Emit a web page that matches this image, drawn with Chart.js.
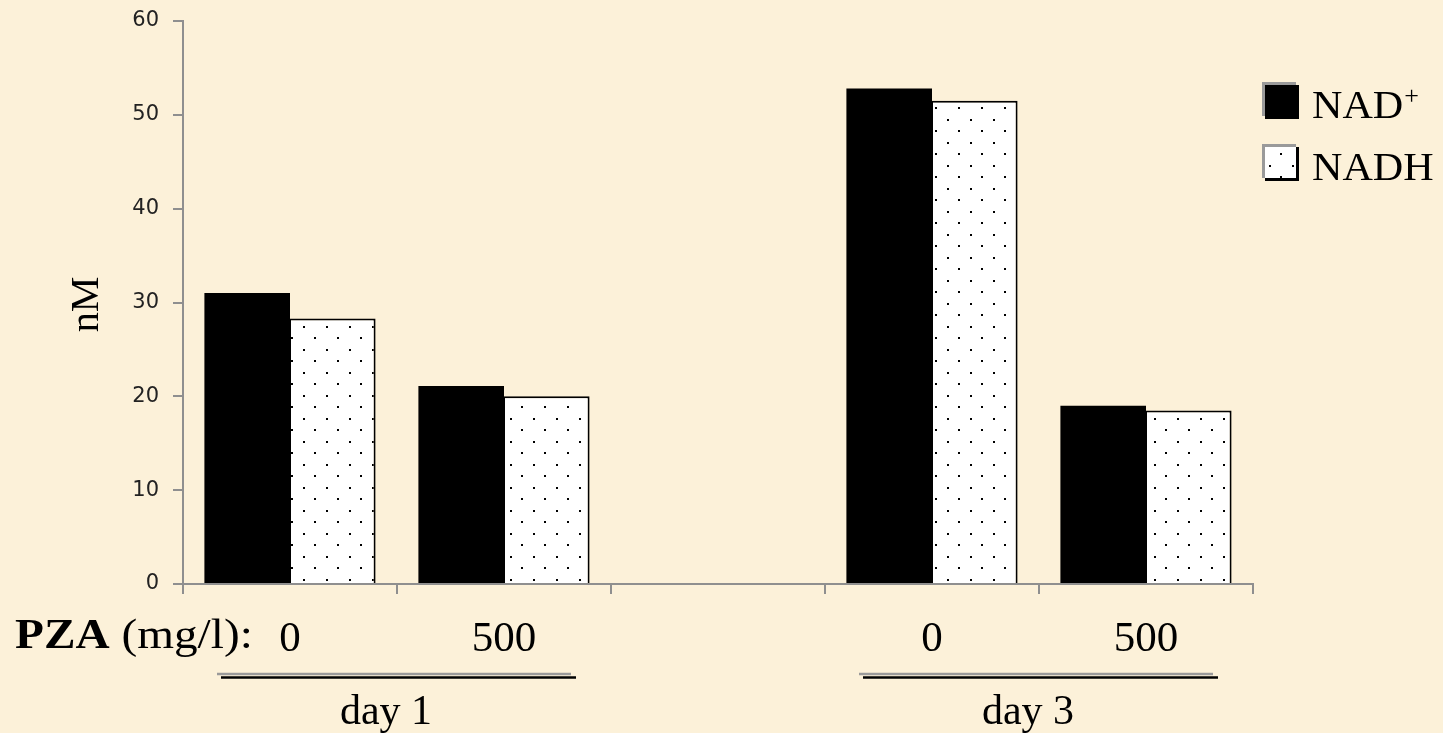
<!DOCTYPE html>
<html>
<head>
<meta charset="utf-8">
<title>NAD+ / NADH</title>
<script src="https://cdn.jsdelivr.net/npm/chart.js@4/dist/chart.umd.min.js"></script>
<style>
  html, body { margin: 0; padding: 0; background: #fcf1d9; }
  #wrap { position: relative; width: 1443px; height: 733px; }
  canvas { display: block; }
</style>
</head>
<body>
<div id="wrap"><canvas id="chart" width="1443" height="733"></canvas></div>
<script>
// PZA concentration per group (empty slot separates day 1 from day 3)
const categories = ['0', '500', '', '0', '500'];
const seriesNames = ['NAD+', 'NADH'];
const nadPlus = [31.0, 21.1, null, 52.8, 19.0];
const nadh = [28.3, 20.0, null, 51.5, 18.5];
const yTicks = [0, 10, 20, 30, 40, 50, 60];
const groups = [
  { label: 'day 1', from: 0, to: 1 },
  { label: 'day 3', from: 3, to: 4 }
];
const axisPrefixBold = 'PZA';
const axisPrefixRest = ' (mg/l):';
const yTitle = 'nM';

const BG = '#fcf1d9';
const AXIS = '#8f8f8f';
const SERIF = '"Liberation Serif", "Times New Roman", serif';

// white fill sprinkled with small black dots in a staggered grid
function dotPattern() {
  const c = document.createElement('canvas');
  c.width = 23; c.height = 23;
  const g = c.getContext('2d');
  g.fillStyle = '#ffffff';
  g.fillRect(0, 0, 23, 23);
  g.fillStyle = '#000000';
  g.fillRect(4, 4, 2, 2);
  g.fillRect(15, 15, 2, 2);
  return g.createPattern(c, 'repeat');
}
const dots = dotPattern();

// serif text drawn with an optional horizontal stretch
function serifText(ctx, text, x, y, font, align, sx) {
  ctx.save();
  ctx.font = font;
  const w = ctx.measureText(text).width * sx;
  let left = x;
  if (align === 'center') left = x - w / 2;
  ctx.translate(left, y);
  ctx.scale(sx, 1);
  ctx.textAlign = 'left';
  ctx.textBaseline = 'alphabetic';
  ctx.fillText(text, 0, 0);
  ctx.restore();
  return w;
}

const decorations = {
  id: 'decorations',
  beforeDraw(chart) {
    const ctx = chart.ctx;
    ctx.save();
    ctx.fillStyle = BG;
    ctx.fillRect(0, 0, chart.width, chart.height);
    ctx.restore();
  },
  afterDraw(chart) {
    const ctx = chart.ctx;
    const x = chart.scales.x;
    const area = chart.chartArea;
    ctx.save();
    ctx.fillStyle = '#000';

    // "PZA (mg/l):" in front of the category labels
    const w = serifText(ctx, axisPrefixBold, 15, 648, 'bold 43px ' + SERIF, 'left', 1.1);
    serifText(ctx, axisPrefixRest, 15 + w, 648, '43px ' + SERIF, 'left', 1.1);

    // group underline (grey line with black line below) and day caption
    const half = x.width / categories.length / 2;
    groups.forEach(gp => {
      const x0 = x.getPixelForValue(gp.from) - half + 34;
      const x1 = x.getPixelForValue(gp.to) + half - 40;
      ctx.lineWidth = 2.5;
      ctx.strokeStyle = '#9a9a9a';
      ctx.beginPath(); ctx.moveTo(x0, 674); ctx.lineTo(x1, 674); ctx.stroke();
      ctx.strokeStyle = '#000';
      ctx.beginPath(); ctx.moveTo(x0 + 4, 677.5); ctx.lineTo(x1 + 5, 677.5); ctx.stroke();
      serifText(ctx, gp.label, (x0 + x1) / 2 - 8, 724, '42px ' + SERIF, 'center', 1.0);
    });

    // y axis title
    ctx.save();
    ctx.translate(98, (area.top + area.bottom) / 2 + 2);
    ctx.rotate(-Math.PI / 2);
    ctx.textAlign = 'center';
    ctx.textBaseline = 'alphabetic';
    ctx.font = '40px ' + SERIF;
    ctx.fillText(yTitle, 0, 0);
    ctx.restore();

    // legend
    const items = [
      { y: 82, fill: '#000', name: 'NAD', sup: '+' },
      { y: 144, fill: dots, name: 'NADH', sup: '' }
    ];
    items.forEach(it => {
      const lx = 1262, s = 34;
      ctx.fillStyle = '#9a9a9a';
      ctx.fillRect(lx, it.y, s, s);
      ctx.fillStyle = '#000';
      ctx.fillRect(lx + 3, it.y + 3, s, s);
      if (it.fill !== '#000') {
        ctx.fillStyle = it.fill;
        ctx.fillRect(lx + 3, it.y + 3, s - 3, s - 3);
      }
      ctx.fillStyle = '#000';
      const nw = serifText(ctx, it.name, 1312, it.y + 36, '39px ' + SERIF, 'left', 1.08);
      if (it.sup) {
        serifText(ctx, it.sup, 1312 + nw + 1, it.y + 22, '26px ' + SERIF, 'left', 1.0);
      }
    });
    ctx.restore();
  }
};

new Chart(document.getElementById('chart'), {
  type: 'bar',
  data: {
    labels: categories,
    datasets: [
      {
        label: seriesNames[0],
        data: nadPlus,
        backgroundColor: '#000',
        borderWidth: 0
      },
      {
        label: seriesNames[1],
        data: nadh,
        backgroundColor: dots,
        borderColor: '#000',
        borderWidth: { top: 2, right: 2, left: 1, bottom: 0 }
      }
    ]
  },
  options: {
    responsive: false,
    animation: false,
    events: [],
    layout: { padding: { top: 21, right: 190, bottom: 0, left: 0 } },
    datasets: { bar: { categoryPercentage: 0.8, barPercentage: 1.0 } },
    plugins: { legend: { display: false }, tooltip: { enabled: false } },
    scales: {
      x: {
        grid: { display: true, drawOnChartArea: false, drawTicks: true, tickLength: 10, color: AXIS, lineWidth: 2, offset: true },
        border: { display: true, color: AXIS, width: 2 },
        ticks: { color: '#000', font: { family: SERIF, size: 43 }, padding: 20, maxRotation: 0, autoSkip: false },
        afterFit(scale) { scale.height = 149; }
      },
      y: {
        min: 0, max: 60,
        afterBuildTicks(scale) { scale.ticks = yTicks.map(v => ({ value: v })); },
        grid: { display: true, drawOnChartArea: false, drawTicks: true, tickLength: 10, color: AXIS, lineWidth: 2 },
        border: { display: true, color: AXIS, width: 2 },
        ticks: { color: '#222', font: { family: '"DejaVu Sans", Verdana, sans-serif', size: 21 }, padding: 14 },
        afterFit(scale) {
          scale.width = 183;
          scale.paddingTop = 12;
          scale.paddingBottom = 12;
        }
      }
    }
  },
  plugins: [decorations]
});
</script>
</body>
</html>
